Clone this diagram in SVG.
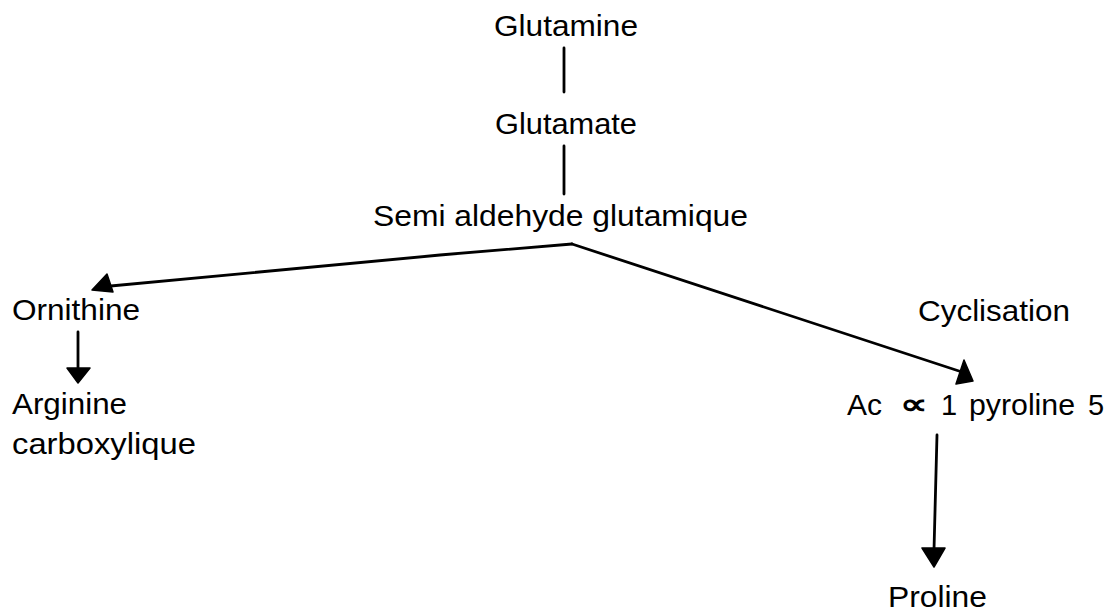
<svg xmlns="http://www.w3.org/2000/svg" width="1119" height="616" viewBox="0 0 1119 616">
<style>
text{font-family:"Liberation Sans",Arial,sans-serif;font-size:29px;fill:#000}
.ln{stroke:#000;stroke-width:2.8;fill:none;stroke-linecap:round;stroke-linejoin:round}
.hd{fill:#000;stroke:#000;stroke-width:1.5;stroke-linejoin:round}
</style>
<rect width="1119" height="616" fill="#fff"/>
<g id="glutamine"><text x="494" y="36" textLength="144" lengthAdjust="spacingAndGlyphs">Glutamine</text></g>
<g id="glutamate"><text x="495" y="134" textLength="142" lengthAdjust="spacingAndGlyphs">Glutamate</text></g>
<g id="semi-aldehyde"><text x="373" y="226" textLength="375" lengthAdjust="spacingAndGlyphs">Semi aldehyde glutamique</text></g>
<g id="ornithine"><text x="12" y="320" textLength="128" lengthAdjust="spacingAndGlyphs">Ornithine</text></g>
<g id="arginine"><text x="12" y="414" textLength="115" lengthAdjust="spacingAndGlyphs">Arginine</text><text x="12" y="454" textLength="184" lengthAdjust="spacingAndGlyphs">carboxylique</text></g>
<g id="cyclisation"><text x="918" y="321" textLength="152" lengthAdjust="spacingAndGlyphs">Cyclisation</text></g>
<g id="pyroline"><text x="847" y="415" textLength="35" lengthAdjust="spacingAndGlyphs">Ac</text><text x="900" y="414" font-family="DejaVu Sans,sans-serif" font-size="46" font-weight="bold" textLength="28" lengthAdjust="spacingAndGlyphs">∝</text><text x="941" y="415">1</text><text x="969" y="415" textLength="106" lengthAdjust="spacingAndGlyphs">pyroline</text><text x="1088" y="415">5</text></g>
<g id="proline"><text x="888" y="607" textLength="99" lengthAdjust="spacingAndGlyphs">Proline</text></g>
<g id="connectors">
<line class="ln" x1="564" y1="48" x2="564" y2="92"/>
<line class="ln" x1="564" y1="146" x2="564" y2="194"/>
<polyline class="ln" points="572,244 440,255 100,287"/>
<polygon class="hd" points="92,290 107,274 113,292"/>
<polyline class="ln" points="572,244 962,372"/>
<polygon class="hd" points="964,360 973,381 956,384"/>
<line class="ln" x1="78" y1="332" x2="78" y2="370"/>
<polygon class="hd" points="67,368 90,368 78,383"/>
<line class="ln" x1="937" y1="435" x2="934" y2="550"/>
<polygon class="hd" points="922,548 945,548 934,567"/>
</g>
</svg>
